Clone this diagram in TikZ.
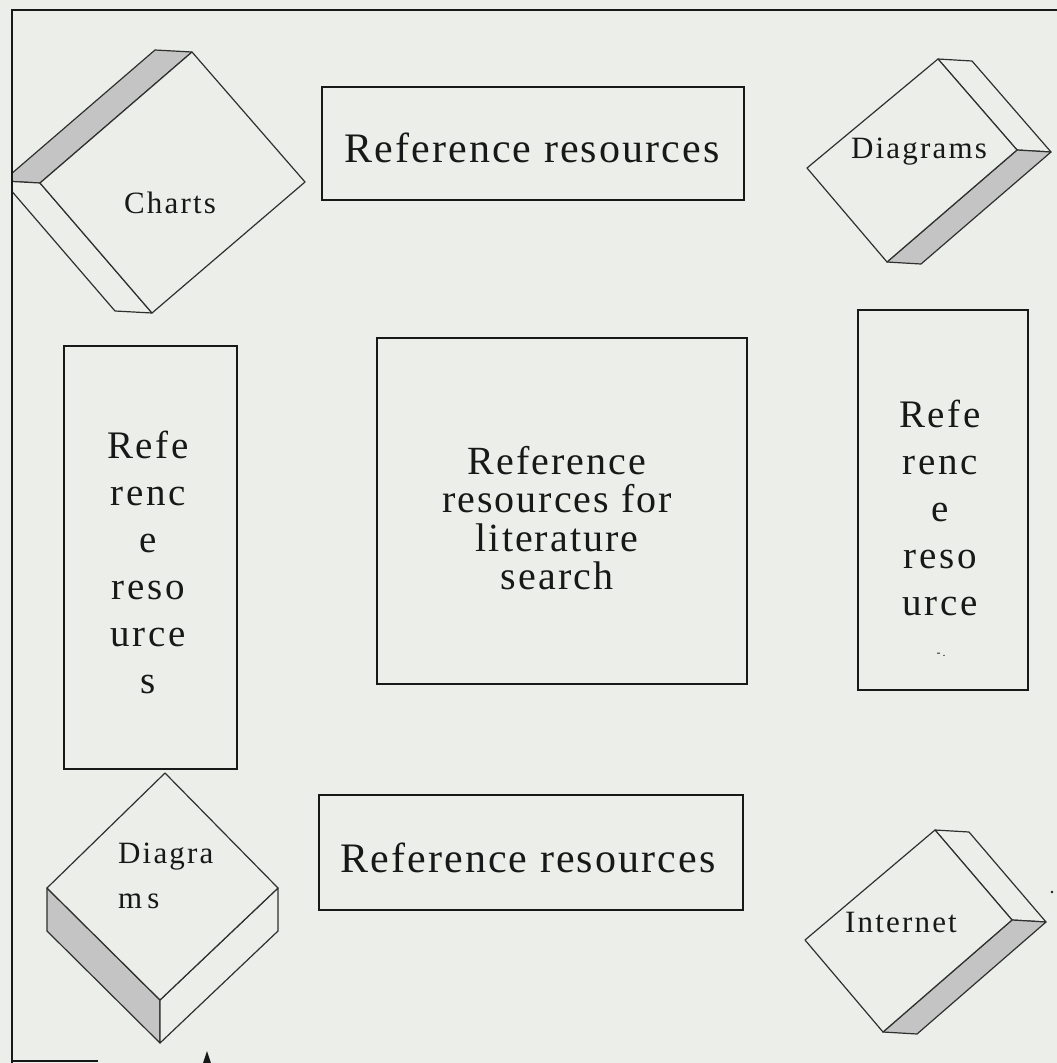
\documentclass[tikz,border=0pt]{standalone}
\usepackage{fontspec}
\setmainfont{Liberation Serif}
\newfontfamily\rsfont[LetterSpace=5]{Liberation Serif}
\newfontfamily\rsfontw[LetterSpace=7]{Liberation Serif}
\definecolor{bg}{RGB}{236,239,233}
\definecolor{ink}{RGB}{24,24,24}
\definecolor{shadeface}{RGB}{196,196,196}
\begin{document}
\begin{tikzpicture}[x=1pt,y=-1pt,
  frameline/.style={draw=ink,line width=2.6pt},
  boxline/.style={draw=ink,line width=1.7pt},
  slab/.style={draw=ink!90,line width=1.2pt,line join=round,fill=bg},
  slabshade/.style={slab,fill=shadeface},
  txt/.style={text=ink,inner sep=0pt},
  bigtxt/.style={txt,font={\rsfont\fontsize{42}{42}\selectfont}},
  midtxt/.style={txt,align=center,font={\rsfont\fontsize{40}{38.5}\selectfont}},
  talltxt/.style={txt,align=center,font={\rsfontw\fontsize{39}{47}\selectfont}},
  smalltxt/.style={txt,font={\rsfontw\fontsize{31}{45}\selectfont}}]
\useasboundingbox (0,0) rectangle (1057,1063);
\fill[bg] (0,0) rectangle (1057,1063);

% ---------- boxes ----------
\draw[boxline] (322,87) rectangle (744,200);
\node[bigtxt,anchor=base] (toptext) at (532,162) {Reference resources};
\draw[boxline] (319,795) rectangle (743,910);
\node[bigtxt,anchor=base] (bottext) at (528,872) {Reference resources};
\draw[boxline] (64,346) rectangle (237,769);
\node[talltxt] (lefttext) at (148,562) {Refe\\renc\\e\\reso\\urce\\s};
\draw[boxline] (858,310) rectangle (1028,690);
\node[talltxt] (righttext) at (940,508) {Refe\\renc\\e\\reso\\urce};
\node[txt,font=\fontsize{12}{12}\selectfont] (rightmark) at (941,655) {-\,.};
\draw[boxline] (377,338) rectangle (747,684);
\node[midtxt] (centertext) at (557,518) {Reference\\resources for\\literature\\search};

% ---------- Charts block (top left) ----------
\begin{scope}
\clip (13,11) rectangle (1057,1063);
\coordinate (cT) at (192,52);
\coordinate (cR) at (305,182);
\coordinate (cB) at (152,313);
\coordinate (cL) at (40,183);
\coordinate (cTd) at (155,50);
\coordinate (cBd) at (115,311);
\coordinate (cLd) at (3,181);
\draw[slabshade] (cL) -- (cT) -- (cTd) -- (cLd) -- cycle;
\draw[slab] (cL) -- (cB) -- (cBd) -- (cLd) -- cycle;
\draw[slab] (cT) -- (cR) -- (cB) -- (cL) -- cycle;
\end{scope}
\node[smalltxt,anchor=base] (charts) at (170,213) {Charts};

% ---------- Diagrams block (top right) ----------
\coordinate (dT) at (938,59);
\coordinate (dR) at (1017,150);
\coordinate (dB) at (887,262);
\coordinate (dL) at (807,168);
\coordinate (dTd) at (972,61);
\coordinate (dRd) at (1051,152);
\coordinate (dBd) at (921,264);
\draw[slab] (dT) -- (dTd) -- (dRd) -- (dR) -- cycle;
\draw[slabshade] (dR) -- (dRd) -- (dBd) -- (dB) -- cycle;
\draw[slab] (dT) -- (dR) -- (dB) -- (dL) -- cycle;
\node[smalltxt,anchor=base] (diagramsA) at (919,158) {Diagrams};

% ---------- Diagrams block (bottom left) ----------
\coordinate (eT) at (165,773);
\coordinate (eR) at (278,888);
\coordinate (eB) at (160,1000);
\coordinate (eL) at (47,888);
\coordinate (eBd) at (160,1043);
\coordinate (eLd) at (47,931);
\coordinate (eRd) at (278,931);
\draw[slabshade] (eL) -- (eB) -- (eBd) -- (eLd) -- cycle;
\draw[slab] (eB) -- (eR) -- (eRd) -- (eBd) -- cycle;
\draw[slab] (eT) -- (eR) -- (eB) -- (eL) -- cycle;
\node[smalltxt,anchor=base west,align=left] (diagramsB) at (118,908) {Diagra\\m\,s};

% ---------- Internet block (bottom right) ----------
\coordinate (iT) at (935,830);
\coordinate (iR) at (1012,920);
\coordinate (iB) at (883,1032);
\coordinate (iL) at (805,940);
\coordinate (iTd) at (969,832);
\coordinate (iRd) at (1046,922);
\coordinate (iBd) at (917,1034);
\draw[slab] (iT) -- (iTd) -- (iRd) -- (iR) -- cycle;
\draw[slabshade] (iR) -- (iRd) -- (iBd) -- (iB) -- cycle;
\draw[slab] (iT) -- (iR) -- (iB) -- (iL) -- cycle;
\node[smalltxt,anchor=base] (internet) at (901,932) {Internet};
\fill[ink] (1052,892) circle (1.3pt);

% ---------- frame ----------
\draw[frameline] (12,1063) -- (12,10) -- (1057,10);
\draw[frameline] (12,1061) -- (98,1061);
\fill[ink] (207,1051) -- (211,1063) -- (203,1063) -- cycle;
\end{tikzpicture}
\end{document}
